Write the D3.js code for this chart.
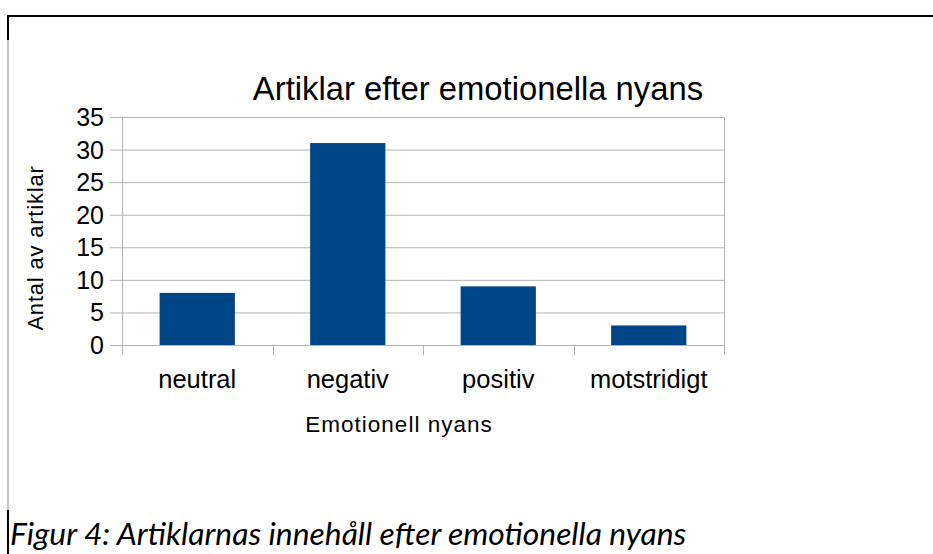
<!DOCTYPE html>
<html>
<head>
<meta charset="utf-8">
<script src="https://cdn.jsdelivr.net/npm/d3@7/dist/d3.min.js"></script>
<style>
  body { margin: 0; background: #fff; }
  svg { display: block; }
</style>
</head>
<body>
<svg id="chart"></svg>
<script>
// data
const categories = ["neutral", "negativ", "positiv", "motstridigt"];
const counts = [8, 31, 9, 3];
const yTicks = [0, 5, 10, 15, 20, 25, 30, 35];

const W = 933, H = 554;
const plot = { left: 122, right: 724, top: 117, bottom: 345 };

const svg = d3.select("#chart")
    .attr("width", W)
    .attr("height", H);

// page frame around the figure
svg.append("line")
    .attr("x1", 7).attr("x2", W).attr("y1", 16).attr("y2", 16)
    .attr("stroke", "#000").attr("stroke-width", 2);
svg.append("line")
    .attr("x1", 8).attr("x2", 8).attr("y1", 16).attr("y2", 40)
    .attr("stroke", "#000").attr("stroke-width", 2);
svg.append("line")
    .attr("x1", 8).attr("x2", 8).attr("y1", 40).attr("y2", 510)
    .attr("stroke", "#888").attr("stroke-width", 1);
svg.append("line")
    .attr("x1", 8).attr("x2", 8).attr("y1", 510).attr("y2", H)
    .attr("stroke", "#000").attr("stroke-width", 2);

const x = d3.scaleBand()
    .domain(categories)
    .range([plot.left, plot.right])
    .paddingInner(0.5)
    .paddingOuter(0.25);

const y = d3.scaleLinear()
    .domain([0, 35])
    .range([plot.bottom, plot.top]);

// grid
svg.append("g")
    .selectAll("line")
    .data(yTicks)
    .enter()
    .append("line")
    .attr("x1", plot.left - 12)
    .attr("x2", plot.right)
    .attr("y1", d => y(d) + 0.5)
    .attr("y2", d => y(d) + 0.5)
    .attr("stroke", "#b3b3b3")
    .attr("stroke-width", 1);

// left / right borders of plot area
svg.append("line")
    .attr("x1", plot.left + 0.5).attr("x2", plot.left + 0.5)
    .attr("y1", plot.top).attr("y2", plot.bottom + 10)
    .attr("stroke", "#b3b3b3");
svg.append("line")
    .attr("x1", plot.right + 0.5).attr("x2", plot.right + 0.5)
    .attr("y1", plot.top).attr("y2", plot.bottom + 10)
    .attr("stroke", "#b3b3b3");

// category boundary ticks
const bounds = categories.slice(1).map(c => x(c) - x.step() * x.paddingInner() / 2);
svg.append("g")
    .selectAll("line")
    .data(bounds)
    .enter()
    .append("line")
    .attr("x1", d => Math.round(d) + 0.5)
    .attr("x2", d => Math.round(d) + 0.5)
    .attr("y1", plot.bottom)
    .attr("y2", plot.bottom + 10)
    .attr("stroke", "#b3b3b3");

// bars
svg.append("g")
    .selectAll("rect")
    .data(counts)
    .enter()
    .append("rect")
    .attr("x", (d, i) => x(categories[i]))
    .attr("y", d => y(d))
    .attr("width", x.bandwidth())
    .attr("height", d => y(0) - y(d))
    .attr("fill", "#004586");

const font = "'Liberation Sans', Arial, sans-serif";

// y tick labels
svg.append("g")
    .selectAll("text")
    .data(yTicks)
    .enter()
    .append("text")
    .text(d => d)
    .attr("x", 104)
    .attr("y", d => y(d) + 9)
    .attr("text-anchor", "end")
    .attr("font-family", font)
    .attr("font-size", "25px")
    .attr("fill", "#000");

// x tick labels
svg.append("g")
    .selectAll("text")
    .data(categories)
    .enter()
    .append("text")
    .text(d => d)
    .attr("x", d => x(d) + x.bandwidth() / 2)
    .attr("y", 388)
    .attr("text-anchor", "middle")
    .attr("font-family", font)
    .attr("font-size", "25.5px")
    .attr("fill", "#000");

// title
svg.append("text")
    .text("Artiklar efter emotionella nyans")
    .attr("x", 478)
    .attr("y", 100)
    .attr("text-anchor", "middle")
    .attr("font-family", font)
    .attr("font-size", "32.8px")
    .attr("fill", "#000");

// axis titles
svg.append("text")
    .text("Emotionell nyans")
    .attr("x", 399)
    .attr("y", 432)
    .attr("text-anchor", "middle")
    .attr("font-family", font)
    .attr("font-size", "22.5px")
    .attr("letter-spacing", "1px")
    .attr("fill", "#000");

svg.append("text")
    .text("Antal av artiklar")
    .attr("transform", "translate(43,248) rotate(-90)")
    .attr("text-anchor", "middle")
    .attr("font-family", font)
    .attr("font-size", "22px")
    .attr("letter-spacing", "0.8px")
    .attr("fill", "#000");

// caption
svg.append("text")
    .text("Figur 4: Artiklarnas innehåll efter emotionella nyans")
    .attr("x", 10)
    .attr("y", 545)
    .attr("font-family", "Lato, 'Open Sans', sans-serif")
    .attr("font-style", "italic")
    .attr("font-size", "31.8px")
    .attr("fill", "#000");
</script>
</body>
</html>
